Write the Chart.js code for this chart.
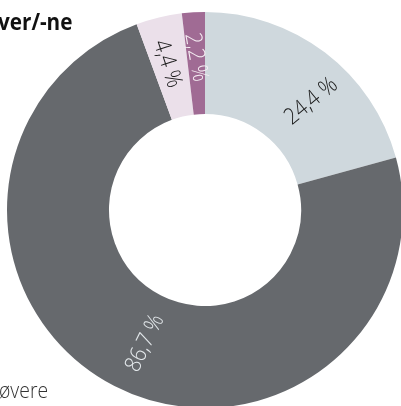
<!DOCTYPE html>
<html><head><meta charset="utf-8">
<style>
html,body{margin:0;padding:0;overflow:hidden;background:#fff;width:401px;height:406px}
#wrap{position:absolute;left:0;top:0;width:420px;height:420px}
</style>
<script src="https://cdn.jsdelivr.net/npm/chart.js@4"></script>
</head><body><div id="wrap"><canvas id="c" width="420" height="420"></canvas></div>
<script>
// Data
const categories = ['Kategori 1', 'Kategori 2', 'Kategori 3', 'Kategori 4'];
const values = [24.4, 86.7, 4.4, 2.2];
const valueLabels = ['24,4 %', '86,7 %', '4,4 %', '2,2 %'];
const titleText = 'ver/-ne';
const legendText = 'øvere';

// Styles
const colors = ['#cfd8dd', '#66696d', '#ebe0ea', '#a06b94'];
const labelColors = ['#1a1a1a', '#e4e9ec', '#1a1a1a', '#f6eff4'];
const labelRotations = [-39, -64, 72, 80];
const labelAngleOffsets = [7, -3, -1, 0];
const labelRadialOffsets = [5, -1, 4, 6];

function drawScaled(ctx, text, x, y, font, sx) {
  ctx.save();
  ctx.font = font;
  ctx.translate(x, y);
  ctx.scale(sx, 1);
  ctx.fillText(text, 0, 0);
  ctx.restore();
}

const labelPlugin = {
  id: 'labels',
  afterDatasetsDraw(chart) {
    const ctx = chart.ctx;
    const meta = chart.getDatasetMeta(0);
    meta.data.forEach((arc, i) => {
      const p = arc.getProps(['x','y','startAngle','endAngle','innerRadius','outerRadius'], true);
      const mid = (p.startAngle + p.endAngle) / 2 + labelAngleOffsets[i] * Math.PI / 180;
      const r = (p.innerRadius + p.outerRadius) / 2 + labelRadialOffsets[i];
      const x = p.x + Math.cos(mid) * r;
      const y = p.y + Math.sin(mid) * r;
      ctx.save();
      ctx.translate(x, y);
      ctx.rotate(labelRotations[i] * Math.PI / 180);
      ctx.scale(0.88, 1);
      ctx.font = '300 23px "Open Sans"';
      ctx.fillStyle = labelColors[i];
      ctx.textAlign = 'center';
      ctx.textBaseline = 'middle';
      ctx.fillText(valueLabels[i], 0, 0);
      ctx.restore();
    });
    // title and legend fragments
    ctx.save();
    ctx.textAlign = 'left';
    ctx.textBaseline = 'alphabetic';
    ctx.fillStyle = '#111';
    drawScaled(ctx, titleText, -2, 30, 'bold 23px "Open Sans"', 0.9);
    ctx.fillStyle = '#333';
    drawScaled(ctx, legendText, -1, 398, '300 22px "Open Sans"', 0.88);
    ctx.restore();
  }
};

new Chart(document.getElementById('c'), {
  type: 'doughnut',
  data: {
    labels: categories,
    datasets: [{ data: values, backgroundColor: colors, borderWidth: 0 }]
  },
  options: {
    responsive: false,
    devicePixelRatio: 1,
    animation: false,
    cutout: '48.5%',
    layout: { padding: { left: 7, top: 12, right: 17, bottom: 12 } },
    plugins: { legend: { display: false }, tooltip: { enabled: false }, title: { display: false } }
  },
  plugins: [labelPlugin]
});
</script>
</body></html>
